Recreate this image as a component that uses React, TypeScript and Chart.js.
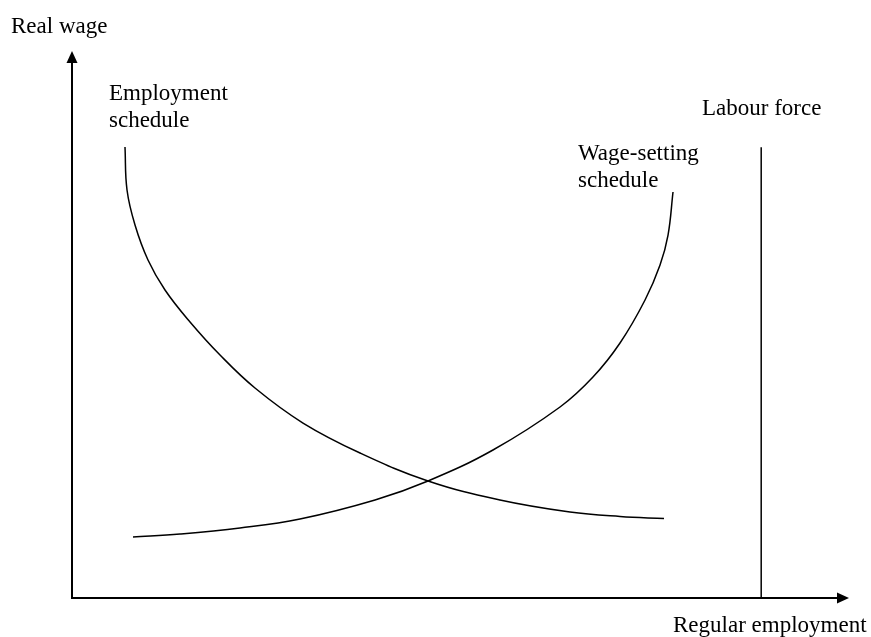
import React, { useEffect, useRef } from "react";
import { Chart, registerables } from "chart.js";

Chart.register(...registerables);

// Employment schedule (x: regular employment, y: real wage), abstract units 0..100
const employmentX = [6.82, 7.08, 8.11, 9.78, 11.97, 15.19, 19.05, 23.55, 29.73, 37.07, 45.82, 55.08, 64.09, 70.53, 76.19];
const employmentY = [82.45, 74.59, 68.19, 61.79, 56.31, 50.46, 44.42, 38.39, 31.99, 26.51, 21.39, 17.92, 15.72, 14.9, 14.53];

// Wage-setting schedule
const wageX = [7.85, 13.9, 21.62, 29.34, 39.0, 45.82, 54.18, 62.81, 67.05, 70.53, 73.75, 75.68, 76.71, 77.35];
const wageY = [11.15, 11.7, 12.8, 14.44, 17.92, 21.39, 27.06, 34.92, 40.4, 46.62, 54.48, 60.88, 66.36, 74.22];

// Labour force (vertical line)
const labourForceX = [88.7, 88.7];
const labourForceY = [0, 82.4];

const axisMax = [100, 100];

const FONT = '23px "Liberation Serif", "Times New Roman", serif';

const labels: { text: string; x: number; y: number }[] = [
  { text: "Real wage", x: 11, y: 33 },
  { text: "Employment", x: 109, y: 100 },
  { text: "schedule", x: 109, y: 127 },
  { text: "Labour force", x: 702, y: 115 },
  { text: "Wage-setting", x: 578, y: 160 },
  { text: "schedule", x: 578, y: 187 },
  { text: "Regular employment", x: 673, y: 632 },
];

const toPts = (xs: number[], ys: number[]) => xs.map((x, i) => ({ x, y: ys[i] }));

const axesPlugin = {
  id: "axesArrows",
  afterDatasetsDraw(chart: any) {
    const { ctx, scales } = chart;
    const xs = scales.x;
    const ys = scales.y;
    const ox = xs.getPixelForValue(0);
    const oy = ys.getPixelForValue(0);
    const tipX = xs.getPixelForValue(axisMax[0]);
    const tipY = ys.getPixelForValue(axisMax[1]);
    ctx.save();
    ctx.strokeStyle = "#000";
    ctx.fillStyle = "#000";
    ctx.lineWidth = 2;
    ctx.beginPath();
    ctx.moveTo(ox, oy);
    ctx.lineTo(ox, tipY + 8);
    ctx.moveTo(ox - 1, oy);
    ctx.lineTo(tipX - 8, oy);
    ctx.stroke();
    // arrow up
    ctx.beginPath();
    ctx.moveTo(ox, tipY);
    ctx.lineTo(ox - 5.5, tipY + 12);
    ctx.lineTo(ox + 5.5, tipY + 12);
    ctx.closePath();
    ctx.fill();
    // arrow right
    ctx.beginPath();
    ctx.moveTo(tipX, oy);
    ctx.lineTo(tipX - 12, oy - 5.5);
    ctx.lineTo(tipX - 12, oy + 5.5);
    ctx.closePath();
    ctx.fill();
    // labels
    ctx.font = FONT;
    ctx.textBaseline = "alphabetic";
    ctx.textAlign = "left";
    for (const l of labels) ctx.fillText(l.text, l.x, l.y);
    ctx.restore();
  },
};

export default function App() {
  const ref = useRef<HTMLCanvasElement | null>(null);
  useEffect(() => {
    if (!ref.current) return;
    const chart = new Chart(ref.current, {
      type: "line",
      data: {
        datasets: [
          {
            label: "Employment schedule",
            data: toPts(employmentX, employmentY),
            borderColor: "#000",
            borderWidth: 1.5,
            pointRadius: 0,
            tension: 0.4,
            fill: false,
          },
          {
            label: "Wage-setting schedule",
            data: toPts(wageX, wageY),
            borderColor: "#000",
            borderWidth: 1.5,
            pointRadius: 0,
            tension: 0.4,
            fill: false,
          },
          {
            label: "Labour force",
            data: toPts(labourForceX, labourForceY),
            borderColor: "#000",
            borderWidth: 1.5,
            pointRadius: 0,
            tension: 0,
            fill: false,
          },
        ],
      },
      options: {
        responsive: false,
        animation: false,
        layout: { padding: { left: 72, right: 22, top: 51, bottom: 39 } },
        plugins: { legend: { display: false }, tooltip: { enabled: false } },
        scales: {
          x: { type: "linear", min: 0, max: axisMax[0], display: false },
          y: { type: "linear", min: 0, max: axisMax[1], display: false },
        },
        elements: { line: { borderCapStyle: "butt" } },
      },
      plugins: [axesPlugin],
    } as any);
    return () => chart.destroy();
  }, []);
  return (
    <canvas
      ref={ref}
      width={871}
      height={637}
      style={{ position: "fixed", left: 0, top: 0, width: 871, height: 637, display: "block", background: "#fff" }}
    />
  );
}
